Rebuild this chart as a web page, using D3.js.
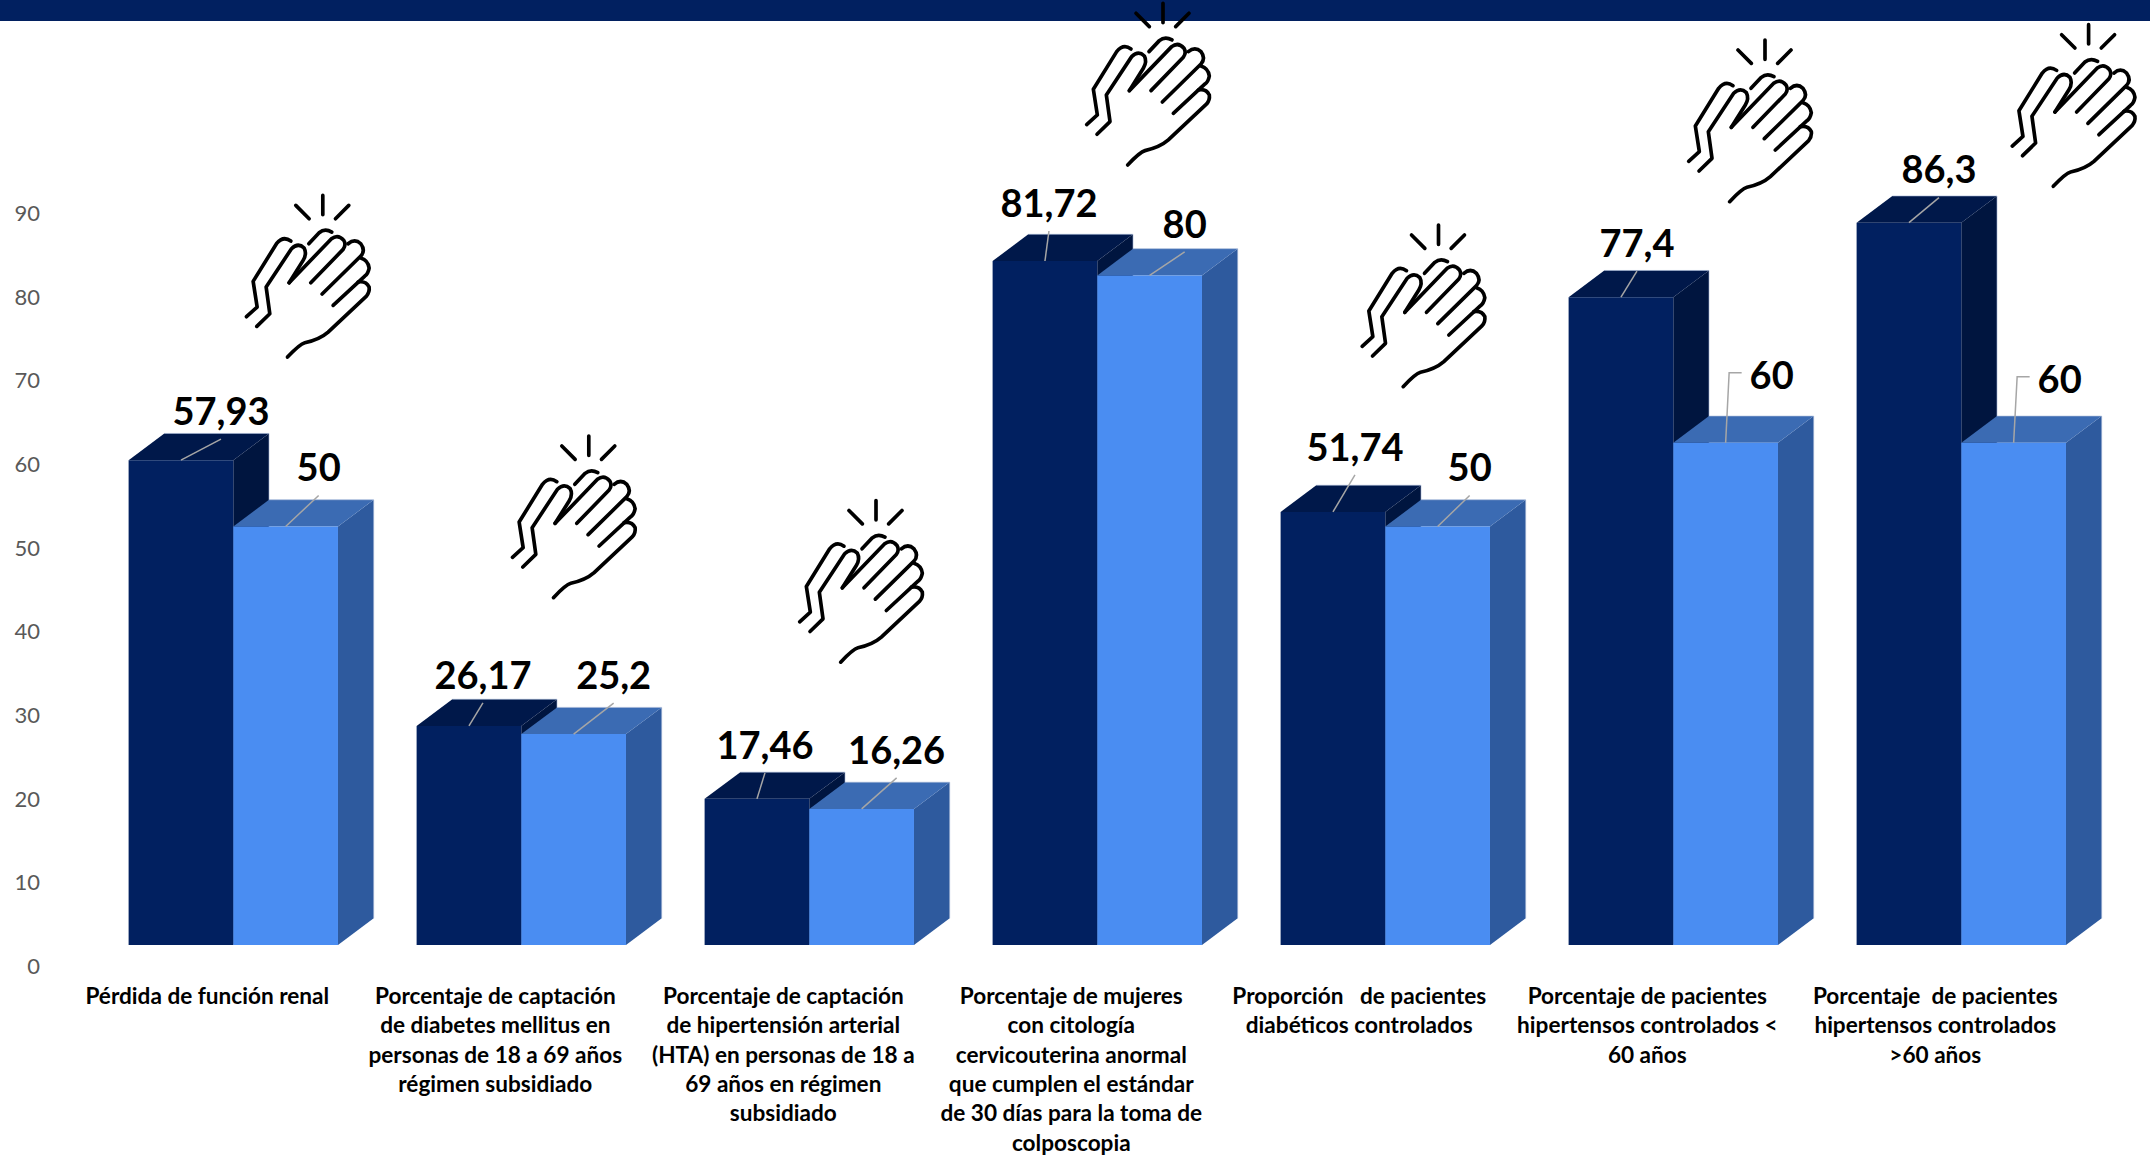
<!DOCTYPE html>
<html>

<head>
    <meta charset='utf-8'>
    <title>Indicadores</title>
    <script src="https://cdnjs.cloudflare.com/ajax/libs/d3/7.8.5/d3.min.js"></script>
    <style>
        body { margin: 0; background: #fff; }
        text { font-family: Lato, "Open Sans", sans-serif; }
    </style>
</head>

<body>
    <script>
        const categories = [
            ["Pérdida de función renal"],
            ["Porcentaje de captación", "de diabetes mellitus en", "personas de 18 a 69 años", "régimen subsidiado"],
            ["Porcentaje de captación", "de hipertensión arterial", "(HTA) en personas de 18 a", "69 años en régimen", "subsidiado"],
            ["Porcentaje de mujeres", "con citología", "cervicouterina anormal", "que cumplen el estándar", "de 30 días para la toma de", "colposcopia"],
            ["Proporción   de pacientes", "diabéticos controlados"],
            ["Porcentaje de pacientes", "hipertensos controlados <", "60 años"],
            ["Porcentaje  de pacientes", "hipertensos controlados", ">60 años"]
        ];
        const resultado = [57.93, 26.17, 17.46, 81.72, 51.74, 77.4, 86.3];
        const meta = [50, 25.2, 16.26, 80, 50, 60, 60];
        const resultadoText = ["57,93", "26,17", "17,46", "81,72", "51,74", "77,4", "86,3"];
        const metaText = ["50", "25,2", "16,26", "80", "50", "60", "60"];
        const yTicks = [0, 10, 20, 30, 40, 50, 60, 70, 80, 90];

        // where the data labels were dragged to, relative to the top of the bar
        const resultadoNudge = [[40, -49], [14, -51], [8, -54], [4, -58], [22, -65], [16, -54], [30, -53]];
        const metaNudge = [[33, -59], [40, -59], [35, -59], [35, -51.5], [32, -59], [46, -67], [46, -63]];
        const metaElbow = [false, false, false, false, false, true, true];
        // top of the middle spark of each clapping hands icon
        const handSpots = [[322.8, 195.4], [588.8, 436], [876, 500.5], [1163, 3.3], [1438.5, 225], [1765, 40], [2088.6, 24.7]];

        const w = 2150;
        const h = 1157;
        const baseY = 945;
        const depthX = 35.7;
        const depthY = 26.7;

        const svg = d3.select("body")
            .append("svg")
            .attr("width", w)
            .attr("height", h)
            .style("display", "block");

        const xScale = d3.scaleBand()
            .domain(d3.range(categories.length))
            .range([89.3, 2105.3])
            .paddingInner(0.273)
            .paddingOuter(0.1365);
        const serieScale = d3.scaleBand()
            .domain(["resultado", "meta"])
            .range([0, xScale.bandwidth()]);
        const yScale = d3.scaleLinear()
            .domain([0, 90])
            .range([baseY, baseY - 753.3]);

        svg.append("rect")
            .attr("width", w)
            .attr("height", 21)
            .attr("fill", "#012060");

        const yAxis = d3.axisLeft(yScale).tickValues(yTicks).tickSize(0).tickPadding(0);
        const axisG = svg.append("g")
            .attr("transform", "translate(40,21.6)")
            .call(yAxis);
        axisG.select(".domain").remove();
        axisG.selectAll("text")
            .style("font-family", "Lato")
            .style("font-size", "22px")
            .attr("fill", "#595959");

        const colors = {
            resultado: { front: "#012060", top: "#00184A", side: "#00153F" },
            meta: { front: "#4A8DF2", top: "#3B6BB3", side: "#2E5A9E" }
        };

        const poly = (pts) => "M" + pts.map((p) => p.join(",")).join("L") + "Z";

        function drawBar(i, serie, value) {
            const x0 = xScale(i) + serieScale(serie);
            const x1 = x0 + serieScale.bandwidth();
            const y0 = yScale(value);
            const g = svg.append("g");
            const c = colors[serie];
            g.append("path")
                .attr("fill", c.side)
                .attr("d", poly([[x1, y0], [x1 + depthX, y0 - depthY], [x1 + depthX, baseY - depthY], [x1, baseY]]));
            g.append("path")
                .attr("fill", c.top)
                .attr("d", poly([[x0, y0], [x0 + depthX, y0 - depthY], [x1 + depthX, y0 - depthY], [x1, y0]]));
            g.append("path")
                .attr("fill", c.front)
                .attr("d", poly([[x0, y0], [x1, y0], [x1, baseY], [x0, baseY]]));
            // thin pale outline round the back of the block
            g.append("path")
                .attr("fill", "none")
                .attr("stroke", "#a3b5d6")
                .attr("stroke-width", 1)
                .attr("stroke-opacity", 0.6)
                .attr("d", "M" + [[x0 + depthX, y0 - depthY], [x1 + depthX, y0 - depthY], [x1 + depthX, baseY - depthY]].map((p) => p.join(",")).join("L"));
        }

        categories.forEach((c, i) => {
            drawBar(i, "resultado", resultado[i]);
            drawBar(i, "meta", meta[i]);
        });

        function drawLabel(i, serie, value, label, nudge, elbow) {
            const cx = xScale(i) + serieScale(serie) + serieScale.bandwidth() / 2;
            const top = yScale(value);
            const lx = cx + nudge[0];
            const ly = top + nudge[1];
            let d;
            if (elbow) {
                d = "M" + cx + "," + top + "L" + (cx + 3.5) + "," + (ly - 3) + "L" + (cx + 16) + "," + (ly - 3);
            } else {
                d = "M" + cx + "," + top + "L" + lx + "," + (ly + 28);
            }
            svg.append("path")
                .attr("d", d)
                .attr("fill", "none")
                .attr("stroke", "#a6a6a6")
                .attr("stroke-width", 1.5);
            svg.append("text")
                .attr("x", lx)
                .attr("y", ly)
                .attr("dy", "0.36em")
                .attr("text-anchor", "middle")
                .style("font-size", "38px")
                .style("font-weight", 700)
                .attr("fill", "#000")
                .text(label);
        }

        categories.forEach((c, i) => {
            drawLabel(i, "resultado", resultado[i], resultadoText[i], resultadoNudge[i], false);
            drawLabel(i, "meta", meta[i], metaText[i], metaNudge[i], metaElbow[i]);
        });

        // category names, centred a bit left of the group because of the 3D offset
        svg.selectAll(".cat")
            .data(categories)
            .enter()
            .append("text")
            .attr("class", "cat")
            .attr("text-anchor", "middle")
            .attr("fill", "#000")
            .style("font-size", "22.6px")
            .style("font-weight", 700)
            .style("white-space", "pre")
            .each(function (lines, i) {
                const cx = xScale(i) + xScale.bandwidth() / 2 - 26;
                d3.select(this).selectAll("tspan")
                    .data(lines)
                    .enter()
                    .append("tspan")
                    .attr("x", cx)
                    .attr("y", (d, j) => 1004 + j * 29.3)
                    .text((d) => d);
            });

        // clapping hands icon, drawn at 3x and scaled down
        const handPaths = [
            "M489,10V68M408,40L448,80M567,40L527,80",
            "M447,155L478,122Q495,108 516,120",
            "M260,374L292,345L280,268L350,155Q370,130 393,147",
            "M291,403L330,365L319,285L395,170Q415,150 433,168Q442,185 430,205L388,272",
            "M388,272L515,140Q535,125 552,145Q560,158 550,172L453,272",
            "M565,155Q585,138 603,155Q618,175 603,192L487,306",
            "M603,198Q625,205 628,228Q625,245 615,252L520,340",
            "M595,270Q618,265 628,285Q630,300 620,312L505,420Q480,442 435,452Q420,456 383,495"
        ];
        const hands = svg.selectAll(".hand")
            .data(handSpots)
            .enter()
            .append("g")
            .attr("class", "hand")
            .attr("transform", (d) => "translate(" + d[0] + "," + d[1] + ") scale(0.3333) translate(-489,-10)");
        hands.selectAll("path")
            .data(handPaths)
            .enter()
            .append("path")
            .attr("d", (d) => d)
            .attr("fill", "none")
            .attr("stroke", "#000")
            .attr("stroke-width", 11)
            .attr("stroke-linecap", "round")
            .attr("stroke-linejoin", "round");
    </script>
</body>

</html>
